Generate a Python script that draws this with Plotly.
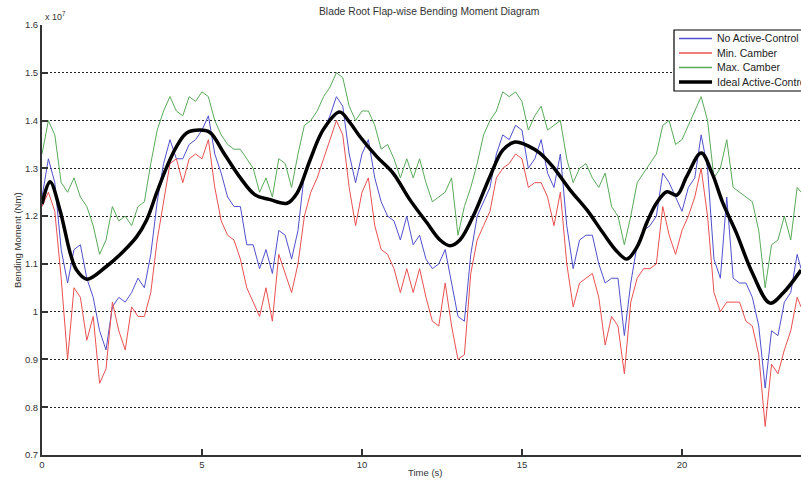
import plotly.graph_objects as go

time_s = [0.0, 0.2, 0.4, 0.6, 0.8, 1.0, 1.2, 1.4, 1.6, 1.8,
          2.0, 2.2, 2.4, 2.6, 2.8, 3.0, 3.2, 3.4, 3.6, 3.8,
          4.0, 4.2, 4.4, 4.6, 4.8, 5.0, 5.2, 5.4, 5.6, 5.8,
          6.0, 6.2, 6.4, 6.6, 6.8, 7.0, 7.2, 7.4, 7.6, 7.8,
          8.0, 8.2, 8.4, 8.6, 8.8, 9.0, 9.2, 9.4, 9.6, 9.8,
          10.0, 10.2, 10.4, 10.6, 10.8, 11.0, 11.2, 11.4, 11.6, 11.8,
          12.0, 12.2, 12.4, 12.6, 12.8, 13.0, 13.2, 13.4, 13.6, 13.8,
          14.0, 14.2, 14.4, 14.6, 14.8, 15.0, 15.2, 15.4, 15.6, 15.8,
          16.0, 16.2, 16.4, 16.6, 16.8, 17.0, 17.2, 17.4, 17.6, 17.8,
          18.0, 18.2, 18.4, 18.6, 18.8, 19.0, 19.2, 19.4, 19.6, 19.8,
          20.0, 20.2, 20.4, 20.6, 20.8, 21.0, 21.2, 21.4, 21.6, 21.8,
          22.0, 22.2, 22.4, 22.6, 22.8, 23.0, 23.2, 23.4, 23.6, 23.72]

# Bending moment in units of 1e7 Nm
no_active_control = [1.24, 1.32, 1.27, 1.13, 1.06, 1.13, 1.14, 1.07, 1.03, 0.96,
                     0.92, 1.01, 1.03, 1.02, 1.04, 1.07, 1.05, 1.12, 1.23, 1.31,
                     1.36, 1.32, 1.32, 1.35, 1.36, 1.38, 1.41, 1.33, 1.29, 1.24,
                     1.22, 1.22, 1.14, 1.14, 1.09, 1.13, 1.08, 1.17, 1.16, 1.11,
                     1.17, 1.29, 1.32, 1.35, 1.38, 1.41, 1.45, 1.43, 1.33, 1.27,
                     1.33, 1.36, 1.28, 1.23, 1.20, 1.19, 1.15, 1.20, 1.14, 1.16,
                     1.11, 1.09, 1.10, 1.13, 1.06, 0.99, 0.98, 1.12, 1.20, 1.23,
                     1.26, 1.33, 1.37, 1.36, 1.39, 1.38, 1.30, 1.32, 1.36, 1.29,
                     1.26, 1.33, 1.18, 1.09, 1.15, 1.16, 1.16, 1.10, 1.06, 1.07,
                     1.07, 0.95, 1.06, 1.14, 1.17, 1.18, 1.20, 1.29, 1.27, 1.24,
                     1.21, 1.26, 1.28, 1.37, 1.30, 1.11, 1.07, 1.24, 1.07, 1.06,
                     1.06, 1.03, 0.97, 0.84, 0.96, 0.95, 1.02, 1.04, 1.12, 1.09]

min_camber = [1.22, 1.25, 1.21, 1.07, 0.90, 1.05, 1.03, 0.94, 0.99, 0.85,
              0.88, 1.02, 0.96, 0.92, 1.01, 0.99, 0.99, 1.04, 1.15, 1.23,
              1.31, 1.32, 1.27, 1.32, 1.33, 1.32, 1.36, 1.26, 1.19, 1.16,
              1.15, 1.11, 1.05, 1.02, 0.99, 1.05, 0.98, 1.12, 1.08, 1.04,
              1.10, 1.20, 1.25, 1.28, 1.32, 1.36, 1.40, 1.37, 1.26, 1.18,
              1.25, 1.28, 1.18, 1.13, 1.12, 1.09, 1.04, 1.09, 1.04, 1.09,
              1.03, 0.98, 0.97, 1.06, 0.97, 0.90, 0.91, 1.08, 1.15, 1.18,
              1.21, 1.28, 1.30, 1.31, 1.33, 1.32, 1.26, 1.27, 1.27, 1.24,
              1.18, 1.25, 1.10, 1.01, 1.06, 1.07, 1.08, 1.03, 0.93, 0.99,
              0.97, 0.87, 1.02, 1.07, 1.09, 1.09, 1.10, 1.22, 1.16, 1.12,
              1.17, 1.20, 1.24, 1.30, 1.20, 1.04, 1.00, 1.02, 1.02, 1.02,
              0.98, 0.97, 0.91, 0.76, 0.89, 0.87, 0.92, 0.96, 1.03, 1.01]

max_camber = [1.33, 1.40, 1.37, 1.27, 1.25, 1.28, 1.24, 1.22, 1.18, 1.12,
              1.15, 1.22, 1.19, 1.20, 1.18, 1.22, 1.23, 1.31, 1.38, 1.42,
              1.45, 1.42, 1.41, 1.45, 1.44, 1.46, 1.45, 1.40, 1.37, 1.35,
              1.34, 1.34, 1.32, 1.30, 1.25, 1.28, 1.24, 1.32, 1.31, 1.26,
              1.33, 1.39, 1.40, 1.42, 1.45, 1.47, 1.50, 1.49, 1.43, 1.40,
              1.42, 1.42, 1.39, 1.34, 1.35, 1.32, 1.28, 1.32, 1.28, 1.32,
              1.27, 1.23, 1.24, 1.25, 1.28, 1.16, 1.22, 1.26, 1.31, 1.37,
              1.40, 1.42, 1.46, 1.45, 1.46, 1.44, 1.38, 1.41, 1.43, 1.38,
              1.39, 1.40, 1.32, 1.27, 1.30, 1.31, 1.28, 1.26, 1.29, 1.22,
              1.20, 1.14, 1.20, 1.27, 1.29, 1.31, 1.33, 1.39, 1.40, 1.35,
              1.36, 1.39, 1.42, 1.45, 1.40, 1.28, 1.30, 1.36, 1.26, 1.25,
              1.24, 1.23, 1.17, 1.05, 1.14, 1.15, 1.20, 1.15, 1.26, 1.25]

ideal_time = [0.0, 0.25, 0.56, 0.88, 1.08, 1.4, 2.0, 2.54, 2.96, 3.27,
              3.58, 3.9, 4.2, 4.52, 4.94, 5.25, 5.7, 6.2, 6.65, 7.1,
              7.66, 7.97, 8.375, 8.78, 9.3, 9.6, 9.94, 10.47, 10.97, 11.5,
              12.03, 12.44, 12.75, 13.06, 13.47, 14.0, 14.4, 14.78, 15.25, 15.56,
              15.97, 16.5, 17.03, 17.53, 17.97, 18.28, 18.6, 18.9, 19.2, 19.53,
              19.84, 20.15, 20.6, 20.94, 21.28, 21.7, 22.2, 22.75, 23.16, 23.72]
ideal_active_control = [1.225, 1.272, 1.213, 1.123, 1.087, 1.068, 1.094, 1.126, 1.157, 1.192,
                        1.248, 1.303, 1.345, 1.374, 1.38, 1.375, 1.33, 1.28, 1.245, 1.235,
                        1.227, 1.248, 1.317, 1.38, 1.418, 1.398, 1.366, 1.324, 1.29, 1.234,
                        1.186, 1.15, 1.138, 1.15, 1.199, 1.283, 1.338, 1.355, 1.345, 1.332,
                        1.303, 1.255, 1.213, 1.165, 1.126, 1.11, 1.136, 1.186, 1.227, 1.251,
                        1.244, 1.283, 1.332, 1.29, 1.227, 1.165, 1.081, 1.018, 1.039, 1.087]

series_names = ["No Active-Control", "Min. Camber", "Max. Camber", "Ideal Active-Control"]
series_colors = ["rgb(80,80,205)", "rgb(235,80,80)", "rgb(90,170,90)", "black"]
series_widths = [1, 1, 1, 3.5]

y_ticks = [0.7, 0.8, 0.9, 1.0, 1.1, 1.2, 1.3, 1.4, 1.5, 1.6]
y_tick_labels = ["0.7", "0.8", "0.9", "1", "1.1", "1.2", "1.3", "1.4", "1.5", "1.6"]
x_ticks = [0, 5, 10, 15, 20]

FONT = "Liberation Sans, Arial, sans-serif"

# plot-area geometry in pixels (used to place the hand-drawn legend box)
W, H = 801, 481
ML, MR, MT, MB = 42, 0, 25, 26
PW, PH = W - ML - MR, H - MT - MB


def px_x(px):
    return (px - ML) / PW


def px_y(py):
    return (H - MB - py) / PH


fig = go.Figure()
series_data = [(time_s, no_active_control), (time_s, min_camber),
               (time_s, max_camber), (ideal_time, ideal_active_control)]
for (xs, ys), name, col, w in zip(series_data, series_names, series_colors, series_widths):
    line = dict(color=col, width=w)
    if w > 2:
        line.update(shape="spline", smoothing=1.0)
    fig.add_trace(go.Scatter(x=xs, y=ys, mode="lines", name=name, line=line,
                             showlegend=False))

shapes = [dict(type="rect", xref="paper", yref="paper",
               x0=px_x(674), x1=px_x(812), y0=px_y(91), y1=px_y(30),
               line=dict(color="black", width=1.2), fillcolor="white", layer="above")]
annotations = []
row_y = [38.5, 53, 67.5, 82]
for name, col, w, ry in zip(series_names, series_colors, series_widths, row_y):
    shapes.append(dict(type="line", xref="paper", yref="paper",
                       x0=px_x(679), x1=px_x(712), y0=px_y(ry), y1=px_y(ry),
                       line=dict(color=col, width=max(w, 1.3)), layer="above"))
    annotations.append(dict(text=name, xref="paper", yref="paper",
                            x=px_x(715), y=px_y(ry), xanchor="left", yanchor="middle",
                            showarrow=False, font=dict(size=10.5, color="#222")))

annotations += [
    dict(text="Blade Root Flap-wise Bending Moment Diagram", xref="paper", yref="paper",
         x=0.51, y=1.0, yshift=14, xanchor="center", yanchor="middle",
         showarrow=False, font=dict(size=10.3, color="#333")),
    dict(text="Time (s)", xref="paper", yref="paper", x=0.505, y=0, yshift=-17,
         xanchor="center", yanchor="middle", showarrow=False,
         font=dict(size=9.5, color="#333")),
    dict(text="Bending Moment (Nm)", xref="paper", yref="paper", x=0, xshift=-25,
         y=0.5, xanchor="center", yanchor="middle", textangle=-90, showarrow=False,
         font=dict(size=9.5, color="#333")),
    dict(text="x 10<sup>7</sup>", xref="paper", yref="paper", x=0, xshift=1,
         y=1.0, yshift=9, xanchor="left", yanchor="middle", showarrow=False,
         font=dict(size=9, color="#333")),
]

fig.update_layout(
    width=W, height=H,
    margin=dict(l=ML, r=MR, t=MT, b=MB),
    paper_bgcolor="white", plot_bgcolor="white",
    font=dict(family=FONT, size=9, color="#333"),
    showlegend=False,
    xaxis=dict(range=[0, 23.72], tickvals=x_ticks, ticks="inside", ticklen=6,
               tickwidth=1.5, tickcolor="#333", showline=True, linewidth=2,
               linecolor="#333", showgrid=False, zeroline=False,
               tickfont=dict(size=9.5, color="#333")),
    yaxis=dict(range=[0.7, 1.6], tickvals=y_ticks, ticktext=y_tick_labels,
               ticks="inside", ticklen=6, tickwidth=1.5, tickcolor="#333",
               showline=True, linewidth=2, linecolor="#333",
               showgrid=True, gridcolor="#222", gridwidth=1, griddash="2px,2px",
               zeroline=False, tickfont=dict(size=9.5, color="#333")),
    shapes=shapes,
    annotations=annotations,
)

fig.write_html("out.html")
